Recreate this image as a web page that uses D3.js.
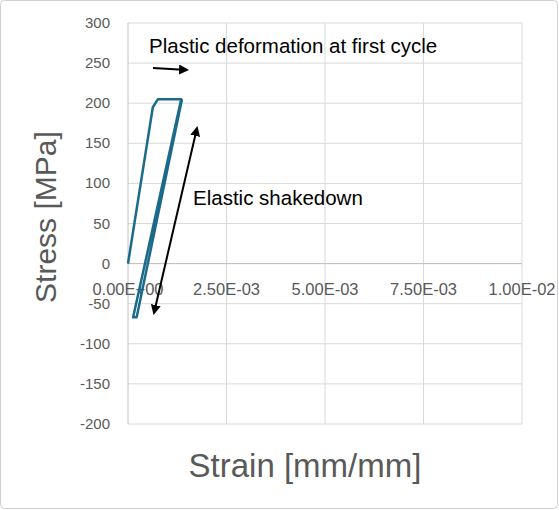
<!DOCTYPE html><html><head><script src="https://cdn.jsdelivr.net/npm/d3@7"></script>
<style>body{margin:0;background:#fff}</style></head><body><svg id="c" width="559" height="510"></svg><script>
const strain=[0,0.00063,0.00076,0.00135,0.00013,0.00022,0.00137];
const stress=[0,195,205,205,-67,-67,205];
const yTicks=[300,250,200,150,100,50,0,-50,-100,-150,-200];
const xTicks=[0,0.0025,0.005,0.0075,0.01];
const xLabels=["0.00E+00","2.50E-03","5.00E-03","7.50E-03","1.00E-02"];
const svg=d3.select("#c");
svg.append("rect").attr("x",0.5).attr("y",0.5).attr("width",557).attr("height",508).attr("rx",4).attr("fill","#fff").attr("stroke","#d0d0d0");
const x=d3.scaleLinear().domain([0,0.01]).range([128,522]);
const y=d3.scaleLinear().domain([-200,300]).range([424,23]);
const g=svg.append("g");
yTicks.forEach(t=>{g.append("line").attr("x1",128).attr("x2",522).attr("y1",y(t)).attr("y2",y(t)).attr("stroke","#d9d9d9");
 g.append("text").attr("x",110).attr("y",y(t)+5).attr("text-anchor","end").attr("font-family","Liberation Sans, Arial").attr("font-size",15).attr("fill","#595959").text(t);});
xTicks.forEach((t,i)=>{g.append("line").attr("x1",x(t)).attr("x2",x(t)).attr("y1",23).attr("y2",424).attr("stroke",i==0?"#bfbfbf":"#d9d9d9");
 g.append("text").attr("x",x(t)).attr("y",y(0)+31).attr("text-anchor","middle").attr("font-family","Liberation Sans, Arial").attr("font-size",16.5).attr("fill","#595959").text(xLabels[i]);});
g.append("line").attr("x1",128).attr("x2",522).attr("y1",y(0)).attr("y2",y(0)).attr("stroke","#bfbfbf");
g.append("path").datum(strain.map((s,i)=>[s,stress[i]])).attr("d",d3.line().x(d=>x(d[0])).y(d=>y(d[1]))).attr("fill","none").attr("stroke","#1b6a8a").attr("stroke-width",2.5).attr("stroke-linejoin","round");
svg.append("text").attr("transform","translate(56,"+y(58)+") rotate(-90)").attr("text-anchor","middle").attr("font-family","Liberation Sans, Arial").attr("font-size",30).attr("fill","#595959").text("Stress [MPa]");
svg.append("text").attr("x",305).attr("y",477).attr("text-anchor","middle").attr("font-family","Liberation Sans, Arial").attr("font-size",33).attr("fill","#595959").text("Strain [mm/mm]");
svg.append("defs").append("marker").attr("id","ah").attr("viewBox","0 0 10 10").attr("refX",8).attr("refY",5).attr("markerWidth",5).attr("markerHeight",5).attr("orient","auto-start-reverse").append("path").attr("d","M0,0L10,5L0,10z").attr("fill","#000");
svg.append("line").attr("x1",153).attr("y1",68).attr("x2",187).attr("y2",70).attr("stroke","#000").attr("stroke-width",2).attr("marker-end","url(#ah)");
svg.append("line").attr("x1",197).attr("y1",128).attr("x2",154).attr("y2",313).attr("stroke","#000").attr("stroke-width",2).attr("marker-end","url(#ah)").attr("marker-start","url(#ah)");
svg.append("text").attr("x",149).attr("y",53).attr("font-family","Liberation Sans, Arial").attr("font-size",20.5).text("Plastic deformation at first cycle");
svg.append("text").attr("x",193).attr("y",205).attr("font-family","Liberation Sans, Arial").attr("font-size",20.5).text("Elastic shakedown");
</script></body></html>
